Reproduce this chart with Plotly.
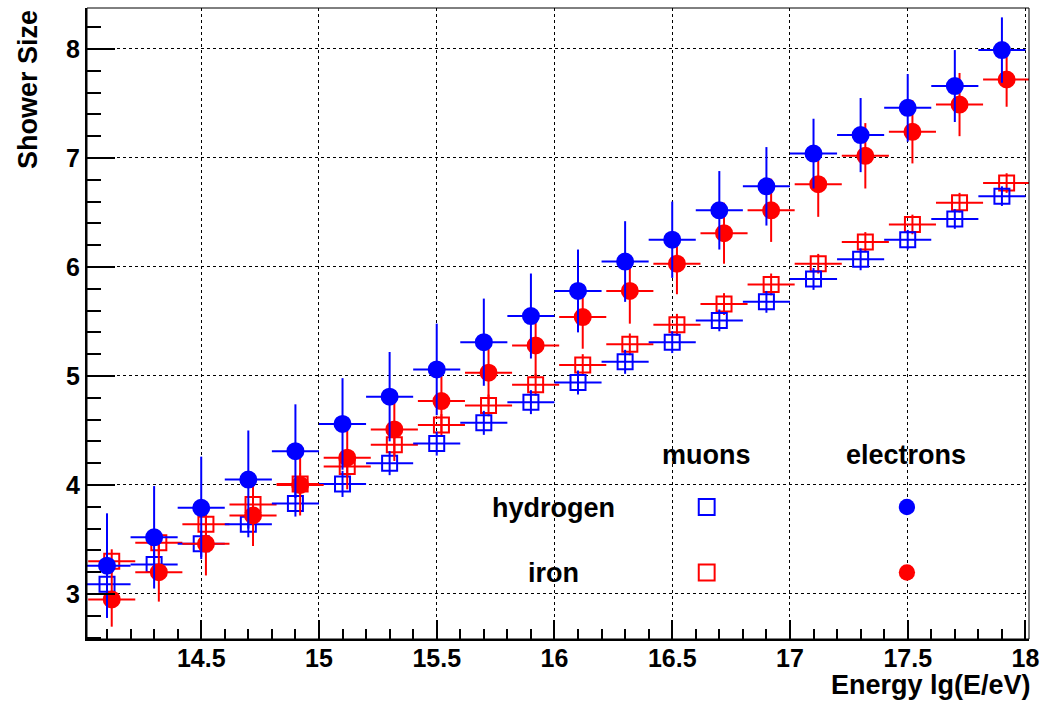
import plotly.graph_objects as go

# ---------------- data ----------------
energy_h = [14.1, 14.3, 14.5, 14.7, 14.9, 15.1, 15.3, 15.5, 15.7, 15.9,
            16.1, 16.3, 16.5, 16.7, 16.9, 17.1, 17.3, 17.5, 17.7, 17.9]
energy_fe = [14.12, 14.32, 14.52, 14.72, 14.92, 15.12, 15.32, 15.52, 15.72, 15.92,
             16.12, 16.32, 16.52, 16.72, 16.92, 17.12, 17.32, 17.52, 17.72, 17.92]
energy_halfwidth = [0.1] * 20

h_electrons = [3.26, 3.52, 3.79, 4.05, 4.31, 4.56, 4.81, 5.06, 5.31, 5.55,
               5.78, 6.05, 6.25, 6.52, 6.74, 7.04, 7.21, 7.46, 7.66, 7.99]
h_electrons_err = [0.48, 0.47, 0.47, 0.45, 0.43, 0.42, 0.41, 0.42, 0.40, 0.39,
                   0.38, 0.37, 0.35, 0.36, 0.36, 0.32, 0.34, 0.31, 0.33, 0.30]
fe_electrons = [2.95, 3.20, 3.46, 3.72, 4.00, 4.25, 4.51, 4.77, 5.03, 5.28,
                5.54, 5.78, 6.03, 6.31, 6.52, 6.76, 7.02, 7.24, 7.49, 7.72]
fe_electrons_err = [0.25, 0.27, 0.29, 0.28, 0.28, 0.29, 0.29, 0.29, 0.29, 0.29,
                    0.29, 0.30, 0.28, 0.28, 0.29, 0.30, 0.30, 0.29, 0.29, 0.25]
h_muons = [3.09, 3.27, 3.46, 3.64, 3.83, 4.01, 4.20, 4.38, 4.57, 4.76,
           4.94, 5.13, 5.31, 5.51, 5.68, 5.89, 6.07, 6.25, 6.44, 6.65]
h_muons_err = [0.12, 0.12, 0.12, 0.12, 0.12, 0.12, 0.11, 0.11, 0.11, 0.11,
               0.11, 0.11, 0.10, 0.10, 0.10, 0.10, 0.10, 0.09, 0.09, 0.09]
fe_muons = [3.30, 3.47, 3.64, 3.82, 4.01, 4.17, 4.37, 4.55, 4.73, 4.92,
            5.10, 5.29, 5.47, 5.66, 5.84, 6.03, 6.23, 6.39, 6.59, 6.77]
fe_muons_err = [0.11, 0.11, 0.11, 0.10, 0.10, 0.10, 0.10, 0.10, 0.10, 0.10,
                0.10, 0.10, 0.10, 0.10, 0.10, 0.09, 0.09, 0.09, 0.09, 0.09]

x_tick_vals = [14.5, 15, 15.5, 16, 16.5, 17, 17.5, 18]
x_tick_text = ["14.5", "15", "15.5", "16", "16.5", "17", "17.5", "18"]
y_tick_vals = [3, 4, 5, 6, 7, 8]
y_tick_text = ["3", "4", "5", "6", "7", "8"]

BLUE = "#0000FF"
RED = "#FF0000"
FONT = "Liberation Sans, Arial, Helvetica, sans-serif"

fig = go.Figure()


def add_series(x, y, yerr, color, symbol, size):
    fig.add_trace(go.Scatter(
        x=x, y=y, mode="markers",
        marker=dict(symbol=symbol, size=size, color=color,
                    line=dict(color=color, width=2)),
        error_y=dict(type="data", array=yerr, visible=True, color=color,
                     thickness=2, width=0),
        error_x=dict(type="data", array=energy_halfwidth, visible=True,
                     color=color, thickness=2, width=0),
        showlegend=False, hoverinfo="skip",
    ))


add_series(energy_fe, fe_muons, fe_muons_err, RED, "square-open", 15)
add_series(energy_h, h_muons, h_muons_err, BLUE, "square-open", 15)
add_series(energy_fe, fe_electrons, fe_electrons_err, RED, "circle", 16)
add_series(energy_h, h_electrons, h_electrons_err, BLUE, "circle", 16)

# ---------------- layout ----------------
W, H = 1047, 702
ML, MR, MT, MB = 87, 11, 8, 63
pw, ph = W - ML - MR, H - MT - MB


def px(xp):
    return (xp - ML) / pw


def py(yp):
    return (H - MB - yp) / ph


fig.update_layout(
    width=W, height=H,
    margin=dict(l=ML, r=MR, t=MT, b=MB),
    paper_bgcolor="white", plot_bgcolor="white",
    font=dict(family=FONT, color="black"),
    xaxis=dict(
        range=[14.015, 18.015], tickmode="array",
        tickvals=x_tick_vals, ticktext=x_tick_text,
        ticks="inside", ticklen=19, tickwidth=2, tickcolor="black",
        minor=dict(ticks="inside", ticklen=10, tickwidth=2, tickcolor="black",
                   dtick=0.1, tick0=14.0, showgrid=False),
        showgrid=True, gridcolor="black", griddash="dot", gridwidth=1,
        showline=True, linecolor="black", linewidth=2,
        zeroline=False, ticklabelstandoff=-4,
        tickfont=dict(size=25, family=FONT, weight="bold"),
    ),
    yaxis=dict(
        range=[2.587, 8.376], tickmode="array",
        tickvals=y_tick_vals, ticktext=y_tick_text,
        ticks="inside", ticklen=28, tickwidth=2, tickcolor="black",
        minor=dict(ticks="inside", ticklen=14, tickwidth=2, tickcolor="black",
                   dtick=0.2, tick0=2.0, showgrid=False),
        showgrid=True, gridcolor="black", griddash="dot", gridwidth=1,
        showline=True, linecolor="black", linewidth=2,
        zeroline=False,
        tickfont=dict(size=25, family=FONT, weight="bold"),
    ),
)

# frame (top/right)
fig.add_shape(type="rect", xref="paper", yref="paper", x0=0, x1=1, y0=0, y1=1,
              line=dict(color="black", width=1), layer="above")

# axis titles
fig.add_annotation(text="Energy lg(E/eV)", xref="paper", yref="paper",
                   x=px(1040), y=py(685), xanchor="right", yanchor="middle",
                   showarrow=False,
                   font=dict(size=27, family=FONT, weight="bold", color="black"))
fig.add_annotation(text="Shower Size", xref="paper", yref="paper",
                   x=px(27), y=py(8), xanchor="center", yanchor="top",
                   textangle=-90, showarrow=False,
                   font=dict(size=27, family=FONT, weight="bold", color="black"))

# legend (table style)
leg_font = dict(size=27, family=FONT, weight="bold", color="black")
for txt, xc, yc in [("muons", 711, 455), ("electrons", 912, 455),
                    ("hydrogen", 557, 508), ("iron", 557, 573)]:
    fig.add_annotation(text=txt, xref="paper", yref="paper", x=px(xc), y=py(yc),
                       xanchor="center", yanchor="middle", showarrow=False,
                       font=leg_font)

sq = 8.0
for color, yc in [(BLUE, 507), (RED, 572.5)]:
    fig.add_shape(type="rect", xref="paper", yref="paper",
                  x0=px(711.3 - sq), x1=px(711.3 + sq),
                  y0=py(yc + sq), y1=py(yc - sq),
                  line=dict(color=color, width=2), fillcolor="white")
rc = 8.2
for color, yc in [(BLUE, 507), (RED, 572.5)]:
    fig.add_shape(type="circle", xref="paper", yref="paper",
                  x0=px(913 - rc), x1=px(913 + rc),
                  y0=py(yc + rc), y1=py(yc - rc),
                  line=dict(color=color, width=0), fillcolor=color)

fig.write_html("out.html")
